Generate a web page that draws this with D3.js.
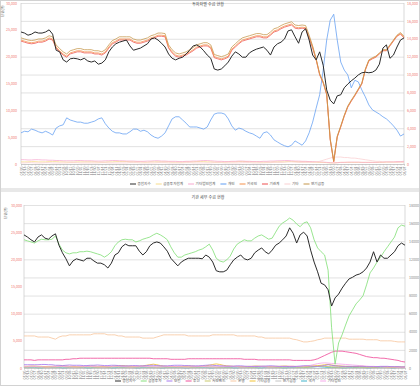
<!DOCTYPE html>
<html lang="ko">
<head>
<meta charset="UTF-8">
<title>수급 현황</title>
<script src="https://d3js.org/d3.v7.min.js"></script>
<style>
    body { margin: 0; background: #fff; }
    text { font-family: 'Noto Sans CJK KR', 'Noto Sans', sans-serif; }
</style>
</head>
<body>
<script>
    // weekly dates, 2018-07 .. 2020-08
    const dates = ("07/06 07/13 07/20 07/27 08/03 08/10 08/17 08/24 08/31 09/07 09/14 09/21 09/28 10/05 10/12 10/19 10/26 11/02 11/09 11/16 11/23 11/30 12/07 12/14 12/21 12/28 " +
        "01/04 01/11 01/18 01/25 02/01 02/08 02/15 02/22 03/01 03/08 03/15 03/22 03/29 04/05 04/12 04/19 04/26 05/03 05/10 05/17 05/24 05/31 06/07 06/14 06/21 06/28 " +
        "07/05 07/12 07/19 07/26 08/02 08/09 08/16 08/23 08/30 09/06 09/13 09/20 09/27 10/04 10/11 10/18 10/25 11/01 11/08 11/15 11/22 11/29 12/06 12/13 12/20 12/27 " +
        "01/03 01/10 01/17 01/24 01/31 02/07 02/14 02/21 02/28 03/06 03/13 03/20 03/27 04/03 04/10 04/17 04/24 05/01 05/08 05/15 05/22 05/29 06/05 06/12 06/19 06/26 " +
        "07/03 07/10 07/17 07/24 07/31 08/07").split(" ");

    const leftTicks  = [0, 5000, 10000, 15000, 20000, 25000, 30000];
    const rightTicks = [0, 2000, 4000, 6000, 8000, 10000, 12000, 14000, 16000, 18000];

    // ---- 투자자별 ----
    const topTitle = "투자자별 수급 현황";
    const topNames = ["종합지수", "금융투자합계", "기타법인합계", "개인", "외국인", "기관계", "기타", "연기금등"];

    const topIndex = [24600,24400,24000,24200,24600,24400,24400,24600,25000,24200,
        21200,20900,19400,19000,19600,19700,19600,19400,19700,19200,
        19000,19200,18600,18800,19400,20900,21800,22400,22700,22900,
        23100,22000,21200,21400,21600,22000,22400,23300,23500,23100,
        22500,21800,20500,19700,19400,19700,19900,20500,21200,22000,
        22200,21800,21100,20300,19700,17700,17500,17700,18300,19000,
        20100,20900,20500,19900,19900,20700,21100,21400,21600,21800,
        21200,20300,21800,22400,22700,23300,24800,25000,23700,22500,
        24600,25200,23100,20300,19400,20900,18400,13800,11900,11200,
        12700,12900,14200,14900,15500,16000,16600,17000,17100,17000,
        17100,17500,18600,21600,22200,19700,20300,21800,23100,23500];

    const topFinInv = [400,400,400,450,450,400,400,400,450,450,
        450,400,400,350,350,350,400,400,400,400,
        400,400,350,350,350,400,400,450,450,450,
        450,400,400,400,400,350,350,400,400,400,
        400,400,400,350,350,350,350,400,400,400,
        450,450,450,400,400,350,350,350,350,400,
        400,400,450,450,450,400,400,400,350,350,
        350,350,400,400,400,400,450,450,450,400,
        400,400,400,350,350,300,300,250,200,200,
        250,300,300,300,300,300,300,300,300,300,
        300,300,300,300,350,350,350,350,400,400];

    const topCorp = [800,800,750,750,800,800,750,750,700,700,
        650,650,600,600,600,600,650,650,600,600,
        600,550,550,550,600,600,650,650,600,600,
        550,550,550,500,500,500,550,550,600,600,
        550,550,500,500,500,450,450,500,500,550,
        550,600,650,650,600,550,500,500,450,450,
        500,500,550,550,500,500,450,450,450,500,
        500,550,550,600,600,650,650,600,550,550,
        500,500,450,450,400,400,350,300,250,200,
        250,300,300,350,350,350,350,300,300,300,
        300,300,350,350,400,400,400,450,450,500];

    const topPersonal = [5800,6100,6000,6500,6300,6000,5800,6100,5800,5400,
        6700,7100,7300,8600,8200,8000,7800,7800,7600,7600,
        7800,8000,8400,8600,7500,6700,6100,5800,5800,5600,
        5600,6000,6500,6500,6100,6300,6000,5400,5000,4800,
        5200,5800,7100,8400,8800,8800,8200,7600,6900,6900,
        6900,6700,6500,6900,8200,9300,9500,9500,9300,8400,
        7100,6300,6700,6500,6100,5800,5600,5200,4800,5800,
        6000,5400,4500,4100,3700,3400,3200,3500,4300,3900,
        3500,4300,5800,7800,10400,12900,17500,23100,26800,27900,
        23100,19000,17500,16600,14200,15600,15300,13800,12500,11000,
        10100,9700,9300,8800,8400,7800,7100,6300,5200,5600];

    const topForeign = [23100,22900,22700,22600,22700,22900,22900,23100,23500,23300,
        21800,21100,20500,20100,20700,20900,21100,21100,20900,20900,
        20900,20700,20700,20500,20900,21800,22600,22900,23300,23300,
        23300,23300,22900,22700,22700,22900,23100,23500,23700,24000,
        24000,23900,21800,20900,20300,20100,20300,20500,20900,21300,
        21800,22000,22200,22200,21800,20000,19800,19600,19800,20100,
        21400,22000,22600,23100,23300,23500,23700,23900,23900,23700,
        23700,24200,24800,25000,25400,25700,25900,26100,25500,25400,
        25500,25400,23700,21800,19500,16700,15200,13000,4600,500,
        5100,7000,9000,10700,11800,12800,13900,15000,17600,19300,
        19700,20000,20600,21200,21200,22100,23000,23900,24300,23600];

    const topInst = [22900,22700,22500,22400,22500,22700,22700,22900,23300,23100,
        21600,20900,20300,19900,20500,20700,20900,20900,20700,20700,
        20700,20500,20500,20300,20700,21600,22400,22700,23100,23100,
        23100,23100,22700,22500,22500,22700,22900,23300,23500,23800,
        23800,23700,21600,20700,20100,19900,20100,20300,20700,21100,
        21600,21800,22000,22000,21600,19800,19600,19400,19600,19900,
        21200,21800,22400,22900,23100,23300,23500,23700,23700,23500,
        23500,24000,24600,24800,25200,25500,25700,25900,25300,25200,
        25300,25200,23500,21600,19400,16600,15100,12900,4500,400,
        5000,6900,8900,10600,11700,12700,13800,14900,17500,19200,
        19600,19900,20500,21100,21100,22000,22900,23800,24200,23500];

    const topEtc = [200,200,250,250,200,200,200,250,250,200,
        200,200,200,200,250,250,250,200,200,200,
        200,200,200,250,250,200,200,200,200,200,
        200,250,250,250,200,200,200,200,200,250,
        250,250,200,200,200,200,200,250,250,200,
        200,200,200,200,200,250,250,250,200,200,
        200,200,200,250,250,250,200,200,200,200,
        250,250,300,300,300,350,400,400,350,300,
        300,300,300,300,400,500,700,900,1100,1300,
        1300,1300,1200,1200,1100,1100,1000,900,800,700,
        600,500,500,400,400,350,300,300,300,300];

    const topPension = [23500,23300,23100,23000,23100,23300,23300,23500,23900,23700,
        22200,21500,20900,20500,21100,21300,21500,21500,21300,21300,
        21300,21100,21100,20900,21300,22200,23000,23300,23700,23700,
        23700,23700,23300,23100,23100,23300,23500,23900,24100,24400,
        24400,24300,22200,21300,20700,20500,20700,20900,21300,21700,
        22200,22400,22600,22600,22200,20400,20200,20000,20200,20500,
        21800,22400,23000,23500,23700,23900,24100,24300,24300,24100,
        24100,24600,25200,25400,25800,26100,26300,26500,25900,25800,
        25900,25800,24000,22000,19600,16800,15300,13100,4700,600,
        5200,7100,9100,10800,11900,12900,14000,15100,17700,19400,
        19800,20100,20700,21300,21300,22200,23100,24000,24500,23800];

    // ---- 기관 세부 ----
    const botTitle = "기관 세부 수급 현황";
    const botNames = ["종합지수", "금융투자", "보험", "투신", "사모펀드", "은행", "기타금융", "연기금등", "국가", "기타법인"];

    const botIndex = [24500,24100,23600,23200,24100,24500,23900,23700,24300,24700,
        22600,21200,20100,18800,19700,20100,19900,19700,20200,20200,
        19700,19300,19300,19000,18400,19300,20800,21200,22300,22800,
        22500,22500,22500,21500,20800,21400,22500,23000,23200,23000,
        22300,21500,20200,19500,18800,19500,19900,20200,20200,20200,
        20200,20100,20800,20400,19500,17900,17700,17700,18000,19000,
        19900,20400,20800,20100,19900,20200,21200,21700,22100,21400,
        21000,21700,22600,23000,23600,24300,25800,24800,23000,24500,
        25000,24300,21700,19500,17700,15600,15300,14400,11400,12900,
        13600,14700,15600,16400,16700,17100,17300,17700,18400,19500,
        21400,19500,20800,20200,20200,20800,21400,22500,23000,22600];

    const botFinInv = [23600,23400,23200,23000,23400,23700,23600,23600,23700,24300,
        22800,21700,21200,21000,21200,21200,21400,21400,21500,21400,
        21200,21000,20800,20400,20800,21400,22500,23200,23600,23700,
        23600,23600,23200,23400,23700,23900,24100,24500,24800,24500,
        24100,23600,22300,21200,20400,20400,20800,21000,21200,21400,
        21700,21900,22300,22800,21700,20200,19700,19500,19900,20600,
        21900,22800,23200,23600,23400,23400,23900,24300,24500,24100,
        23700,23900,25000,26100,26700,27100,27600,27200,26500,26000,
        26700,26900,25800,23600,22100,21400,20800,18000,7400,700,
        4600,6100,7900,9600,10700,11800,12500,13300,15300,17500,
        18400,19500,20400,21400,22300,23200,24100,25800,26300,26100];

    const botInsur = [600,600,600,600,600,650,650,600,600,500,
        500,450,500,550,500,500,500,450,450,500,
        500,550,500,450,450,500,500,450,400,400,
        400,450,450,400,400,450,500,500,450,400,
        400,400,450,500,500,500,450,450,400,400,
        400,450,500,550,500,450,400,400,350,350,
        350,400,400,350,300,300,300,300,350,350,
        400,400,350,300,300,300,250,250,300,350,
        400,400,350,300,300,350,450,600,500,400,
        350,300,300,300,300,300,300,300,250,250,
        250,250,300,300,300,250,250,250,200,200];

    const botTrust = [1500,1500,1500,1400,1500,1500,1500,1500,1500,1500,
        1500,1500,1600,1600,1700,1700,1800,1800,1800,1800,
        1800,1800,1800,1800,1800,1800,1800,1800,1800,1800,
        1800,1800,1800,1800,1800,1800,1800,1700,1700,1700,
        1700,1700,1600,1600,1600,1600,1600,1700,1700,1700,
        1700,1700,1700,1700,1700,1700,1700,1700,1700,1700,
        1700,1700,1700,1600,1600,1600,1600,1500,1500,1500,
        1500,1500,1500,1500,1500,1500,1500,1400,1400,1400,
        1400,1400,1400,1500,1700,2000,2300,2600,2900,3100,
        3100,3100,3000,2900,2800,2700,2500,2300,2100,2000,
        1900,1900,1800,1800,1700,1600,1500,1400,1200,1100];

    const botPrivate = [200,200,250,250,200,200,150,150,200,200,
        250,250,200,200,150,150,200,200,250,200,
        200,150,150,200,200,200,250,250,200,200,
        150,150,200,200,250,250,200,200,150,150,
        200,200,200,250,250,200,200,150,150,200,
        200,250,250,200,200,150,150,200,200,200,
        250,250,200,200,150,150,200,200,250,250,
        200,200,150,150,200,200,250,250,200,200,
        150,150,200,250,300,350,300,250,200,150,
        150,200,200,250,250,200,200,150,150,200,
        200,250,250,200,200,150,150,200,200,200];

    const botBank = [5900,5900,5900,5900,5700,5700,5700,5700,5500,5300,
        5700,5900,5900,6100,6100,6100,6100,6100,6100,6100,
        6300,6300,6300,6300,6100,6100,6100,5900,5900,5700,
        5700,5700,5700,5700,5500,5500,5500,5500,5700,5900,
        6100,6100,6100,6100,6100,6100,6100,5900,5900,5900,
        5900,5900,5900,5900,6100,6100,6100,6100,6100,6100,
        6100,5900,5900,5900,5900,5900,5900,5700,5700,5500,
        5500,5500,5500,5500,5500,5500,5500,5300,5200,5000,
        4800,4800,4900,5000,5200,5300,5500,5500,5500,5500,
        5500,5500,5500,5300,5300,5300,5300,5300,5200,5200,
        5200,5200,5000,5000,5000,5000,4900,4800,4800,4800];

    const botOtherFin = [300,300,350,350,300,300,250,250,300,300,
        350,400,350,300,300,250,250,300,300,350,
        350,300,300,250,250,300,350,400,450,400,
        350,300,300,350,400,500,600,700,600,450,
        350,300,300,250,250,300,300,350,350,300,
        300,350,400,500,650,750,650,500,400,350,
        300,300,250,250,300,300,350,350,300,300,
        250,250,300,300,350,350,300,300,250,250,
        300,300,350,400,450,500,600,650,550,450,
        400,350,300,300,250,250,300,300,250,250,
        200,200,250,250,200,200,200,200,150,150];

    const botPension = [150,150,150,150,200,200,150,150,150,150,
        150,200,200,150,150,150,150,150,200,200,
        150,150,150,150,150,200,200,150,150,150,
        150,150,200,200,150,150,150,150,150,200,
        200,150,150,150,150,150,200,200,150,150,
        150,150,150,200,200,150,150,150,150,150,
        200,200,150,150,150,150,150,200,200,150,
        150,150,150,150,200,200,150,150,150,150,
        150,200,200,250,300,350,300,250,200,200,
        150,150,150,150,200,200,150,150,150,150,
        150,200,200,150,150,150,150,150,100,100];

    const botState = [100,100,100,100,50,50,100,100,100,100,
        100,50,50,100,100,100,100,100,50,50,
        100,100,100,100,100,50,50,100,100,100,
        100,100,50,50,100,100,100,100,100,50,
        50,100,100,100,100,100,50,50,100,100,
        100,100,100,50,50,100,100,100,100,100,
        50,50,100,100,100,100,100,50,50,100,
        100,100,100,100,50,50,100,100,100,100,
        100,100,150,200,250,200,150,100,100,100,
        100,50,50,100,100,100,100,100,50,50,
        100,100,100,100,100,50,50,100,100,100];

    const botOtherCorp = [250,250,300,300,250,250,200,200,250,250,
        300,300,250,250,200,200,250,250,300,300,
        250,250,200,200,250,250,300,350,300,250,
        200,200,250,250,300,300,250,250,200,200,
        250,250,300,300,250,250,200,200,250,250,
        300,300,250,250,200,200,250,250,300,300,
        250,250,200,200,250,250,300,300,250,250,
        200,200,250,250,300,300,350,350,300,300,
        350,400,500,650,800,900,950,900,850,800,
        750,700,650,600,550,500,450,400,350,300,
        300,250,250,200,200,200,200,150,150,150];

    const W = 420, H = 386;

    const svg = d3.select("body").append("svg")
        .attr("width", W)
        .attr("height", H);

    svg.append("rect").attr("width", W).attr("height", H).attr("fill", "#fff");
    svg.append("rect").attr("x", 0).attr("y", 188).attr("width", W).attr("height", 4).attr("fill", "#e8e8e8");
    svg.append("rect").attr("x", 0.5).attr("y", 0.5).attr("width", W - 1).attr("height", H - 1)
        .attr("fill", "none").attr("stroke", "#d2d2d2");

    function drawPanel(p) {
        const x = d3.scalePoint().domain(d3.range(dates.length)).range([p.left, p.right]);
        const yL = d3.scaleLinear().domain([0, 30000]).range([p.bottom, p.top]);
        const yR = d3.scaleLinear().domain([0, 18000]).range([p.bottom, p.top]);
        const g = svg.append("g");

        // grid follows the right axis
        g.append("g")
            .attr("transform", `translate(${p.left},0)`)
            .call(d3.axisLeft(yR).tickValues(rightTicks).tickSize(-(p.right - p.left)).tickFormat(""))
            .call(a => a.select(".domain").remove())
            .selectAll("line").attr("stroke", "#d6d6d6").attr("stroke-width", 0.7);

        g.append("line").attr("x1", p.left).attr("x2", p.left).attr("y1", p.top).attr("y2", p.bottom)
            .attr("stroke", "#c8c8c8").attr("stroke-width", 0.7);
        g.append("line").attr("x1", p.right).attr("x2", p.right).attr("y1", p.top).attr("y2", p.bottom)
            .attr("stroke", "#c8c8c8").attr("stroke-width", 0.7);

        const la = g.append("g")
            .attr("transform", `translate(${p.left},0)`)
            .call(d3.axisLeft(yL).tickValues(leftTicks).tickSize(0).tickPadding(p.leftPad).tickFormat(d3.format(",")));
        la.select(".domain").remove();
        la.selectAll("text").attr("fill", "#f07a72").style("font-size", "3.6px");

        const ra = g.append("g")
            .attr("transform", `translate(${p.right},0)`)
            .call(d3.axisRight(yR).tickValues(rightTicks).tickSize(0).tickPadding(p.rightPad).tickFormat(d3.format(p.rightFmt)));
        ra.select(".domain").remove();
        ra.selectAll("text").attr("fill", p.rightColor).style("font-size", "3.6px");

        const xa = g.append("g")
            .attr("transform", `translate(0,${p.bottom})`)
            .call(d3.axisBottom(x).tickSize(1.5).tickFormat(i => dates[i]));
        xa.select(".domain").attr("stroke", "#bbb").attr("stroke-width", 0.6);
        xa.selectAll("line").attr("stroke", "#bbb").attr("stroke-width", 0.5);
        xa.selectAll("text")
            .attr("transform", "rotate(-90)")
            .attr("x", -2.5).attr("y", 0).attr("dy", "0.35em")
            .attr("text-anchor", "end")
            .attr("fill", "#777")
            .style("font-size", "3.4px");

        g.append("text")
            .attr("transform", `translate(${p.unitX},${p.top + 8}) rotate(-90)`)
            .attr("text-anchor", "middle")
            .attr("fill", "#666")
            .style("font-size", "3.6px")
            .text("단위(억)");

        g.append("text")
            .attr("x", p.titleX).attr("y", p.titleY)
            .attr("text-anchor", "middle")
            .attr("fill", "#444")
            .style("font-size", "4px")
            .text(p.title);

        const line = d3.line().x((d, i) => x(i)).y(d => yL(d));
        p.drawOrder.forEach(k => {
            const s = p.series[k];
            g.append("path")
                .datum(s.values)
                .attr("fill", "none")
                .attr("stroke", s.color)
                .attr("stroke-width", s.width)
                .attr("stroke-linejoin", "round")
                .attr("d", line);
        });

        // legend
        let cx = p.legendX;
        const lg = g.append("g");
        p.series.forEach(s => {
            lg.append("line").attr("x1", cx).attr("x2", cx + 6).attr("y1", p.legendY).attr("y2", p.legendY)
                .attr("stroke", s.color).attr("stroke-width", 1);
            const t = lg.append("text")
                .attr("x", cx + 7.5).attr("y", p.legendY).attr("dy", "0.35em")
                .attr("fill", "#555")
                .style("font-size", "3.6px")
                .text(s.name);
            cx += 7.5 + t.node().getComputedTextLength() + 5;
        });
    }

    const topColors = ["#2b2b2b", "#f7dc8a", "#f7a8cf", "#5f9cf2", "#f5904a", "#ee4f4f", "#f9cfd0", "#c49548"];
    const topValues = [topIndex, topFinInv, topCorp, topPersonal, topForeign, topInst, topEtc, topPension];

    drawPanel({
        title: topTitle, titleX: 208, titleY: 6,
        left: 21, right: 404, top: 3, bottom: 164,
        leftPad: 4, rightPad: 3, rightFmt: ",", rightColor: "#f07a72",
        unitX: 4, legendX: 130, legendY: 184,
        series: topNames.map((n, i) => ({name: n, color: topColors[i], values: topValues[i], width: i === 0 ? 1 : 0.75})),
        drawOrder: [1, 2, 6, 3, 5, 4, 7, 0]
    });

    const botColors = ["#2b2b2b", "#86e07c", "#a77af0", "#f0509c", "#c9c96a", "#f8c9a2", "#f2c233", "#c4c4c4", "#3fb2c9", "#f6a9ea"];
    const botValues = [botIndex, botFinInv, botInsur, botTrust, botPrivate, botBank, botOtherFin, botPension, botState, botOtherCorp];

    drawPanel({
        title: botTitle, titleX: 208, titleY: 199,
        left: 24, right: 405, top: 205, bottom: 368,
        leftPad: 2, rightPad: 4, rightFmt: "d", rightColor: "#888",
        unitX: 7, legendX: 115, legendY: 381,
        series: botNames.map((n, i) => ({name: n, color: botColors[i], values: botValues[i], width: i === 0 ? 1 : 0.85})),
        drawOrder: [8, 7, 4, 6, 9, 2, 5, 3, 1, 0]
    });
</script>
</body>
</html>
